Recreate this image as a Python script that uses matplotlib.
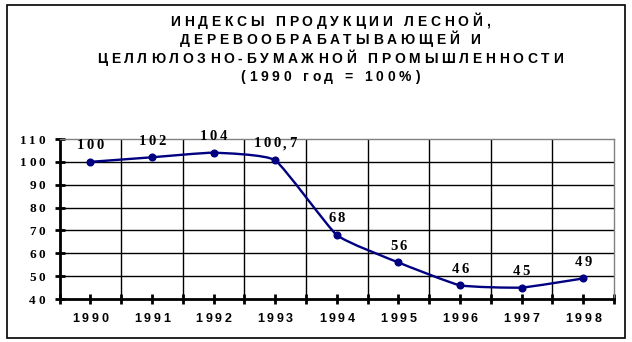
import matplotlib
matplotlib.use("Agg")
import matplotlib.pyplot as plt
from matplotlib.path import Path
from matplotlib.patches import PathPatch, Rectangle
from matplotlib.font_manager import FontProperties
import matplotlib.transforms as mtrans
import numpy as np

years = ["1990", "1991", "1992", "1993", "1994", "1995", "1996", "1997", "1998"]
values = [100, 102, 104, 100.7, 68, 56, 46, 45, 49]
labels = ["100", "102", "104", "100,7", "68", "56", "46", "45", "49"]
yticks = [40, 50, 60, 70, 80, 90, 100, 110]
title_lines = ["ИНДЕКСЫ ПРОДУКЦИИ ЛЕСНОЙ,",
               "ДЕРЕВООБРАБАТЫВАЮЩЕЙ И",
               "ЦЕЛЛЮЛОЗНО-БУМАЖНОЙ ПРОМЫШЛЕННОСТИ",
               "(1990 год = 100%)"]

W, H = 632, 342
fig = plt.figure(figsize=(W / 100, H / 100), dpi=100)
renderer = fig.canvas.get_renderer()

NAVY = "#000080"

# outer border
fig.patches.append(Rectangle((6.5 / W, 1 - 337.5 / H), 618.5 / W, 332.5 / H,
                             transform=fig.transFigure, fill=False,
                             edgecolor="black", linewidth=1.2))

ax = fig.add_axes([59.5 / W, 1 - 299 / H, (614 - 59.5) / W, 160 / H])
ax.set_xlim(-0.5, len(years) - 0.5)
ax.set_ylim(40, 110)

for s in ["top", "right"]:
    ax.spines[s].set_color("#808080")
    ax.spines[s].set_linewidth(1.0)
for s in ["left", "bottom"]:
    ax.spines[s].set_linewidth(2.0)
    ax.spines[s].set_color("black")

ax.set_yticks(yticks)
ax.set_yticklabels([])
ax.set_xticks(np.arange(-0.5, len(years), 0.5))
ax.set_xticklabels([])
ax.tick_params(axis="both", direction="inout", length=7, width=2.0, color="black")
for y in yticks[1:-1]:
    ax.axhline(y, color="black", linewidth=1.0, zorder=1)
for xb in np.arange(0.5, len(years) - 1, 1.0):
    ax.axvline(xb, color="black", linewidth=1.0, zorder=1)

# lightly smoothed line through data points via Bezier path
xs = np.arange(len(values), dtype=float)
ys = np.array(values, dtype=float)
verts = [(xs[0], ys[0])]
codes = [Path.MOVETO]
t = 0.07
for i in range(len(xs) - 1):
    p0 = np.array([xs[max(i - 1, 0)], ys[max(i - 1, 0)]])
    p1 = np.array([xs[i], ys[i]])
    p2 = np.array([xs[i + 1], ys[i + 1]])
    p3 = np.array([xs[min(i + 2, len(xs) - 1)], ys[min(i + 2, len(xs) - 1)]])
    c1 = p1 + (p2 - p0) * t
    c2 = p2 - (p3 - p1) * t
    verts += [tuple(c1), tuple(c2), tuple(p2)]
    codes += [Path.CURVE4] * 3
ax.add_patch(PathPatch(Path(verts, codes), facecolor="none", edgecolor=NAVY,
                       linewidth=1.7, zorder=3, clip_on=False))
ax.plot(xs, ys, linestyle="none", marker="o", markersize=4.8, color=NAVY,
        zorder=4, clip_on=False)


def spaced(x, y, s, prop, spacing, transform, ha="center", va="baseline",
           color="black"):
    widths = [renderer.get_text_width_height_descent(c, prop, ismath=False)[0]
              for c in s]
    total = sum(widths) + spacing * (len(s) - 1)
    if ha == "center":
        start = -total / 2
    elif ha == "right":
        start = -total
    else:
        start = 0
    pos = start
    for c, w in zip(s, widths):
        tr = mtrans.offset_copy(transform, fig=fig, x=pos * 72 / 100, y=0,
                                units="points")
        fig.text(x, y, c, fontproperties=prop, transform=tr, ha="left",
                 va=va, color=color)
        pos += w + spacing


def fit_spacing(s, prop, target):
    widths = [renderer.get_text_width_height_descent(c, prop, ismath=False)[0]
              for c in s]
    return (target - sum(widths)) / (len(s) - 1)


title_fp = FontProperties(family="Liberation Sans", weight="bold", size=10)
title_sp = fit_spacing(title_lines[2], title_fp, 466)
title_base = [26, 44, 63, 81]
for line, yy in zip(title_lines, title_base):
    spaced(330 / W, 1 - yy / H, line, title_fp, title_sp, fig.transFigure)

ytick_fp = FontProperties(family="Liberation Serif", weight="bold", size=9.5)
xtick_fp = FontProperties(family="Liberation Sans", weight="bold", size=9)
lab_fp = FontProperties(family="Liberation Serif", weight="bold", size=10.5)

# y tick labels
for v in yticks:
    spaced(-0.5, v, str(v), ytick_fp, 2.3,
           mtrans.offset_copy(ax.transData, fig=fig, x=-10.5, y=0, units="points"),
           ha="right", va="center_baseline")
# x tick labels
for i, yr in enumerate(years):
    spaced(i, 40, yr, xtick_fp, 2.7,
           mtrans.offset_copy(ax.transData, fig=fig, x=0, y=-16.5, units="points"),
           ha="center", va="baseline")
# data labels
for i, (v, lab) in enumerate(zip(values, labels)):
    spaced(i, v, lab, lab_fp, 2.4,
           mtrans.offset_copy(ax.transData, fig=fig, x=0, y=9.2, units="points"),
           ha="center", va="baseline")

fig.savefig("out.png", dpi=100)
